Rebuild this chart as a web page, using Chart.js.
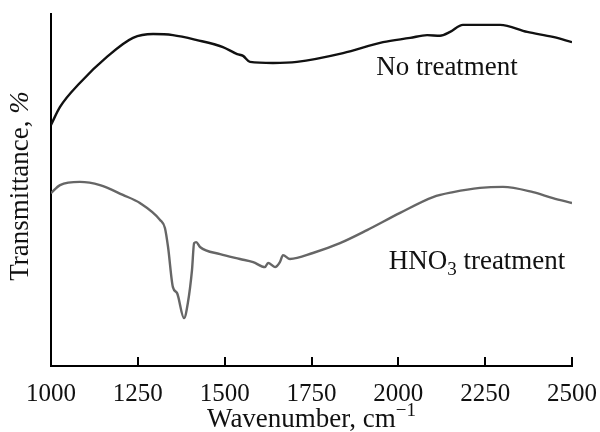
<!DOCTYPE html>
<html>
<head>
<meta charset="utf-8">
<script src="https://cdn.jsdelivr.net/npm/chart.js@4"></script>
<style>
  html, body { margin: 0; padding: 0; background: #fff; }
  #wrap { width: 600px; height: 432px; }
</style>
</head>
<body>
<div id="wrap"><canvas id="chart1"></canvas></div>
<script>
// wavenumber (cm-1) and transmittance (arbitrary %)
var noTreatX = [1000, 1026, 1083, 1161, 1236, 1294, 1351, 1420, 1495, 1536, 1553, 1573, 1639, 1708, 1841, 1956, 2034, 2083, 2120, 2149, 2186, 2293, 2371, 2445, 2500];
var noTreatY = [68.5, 73.6, 80.4, 87.8, 93.2, 94.3, 94.0, 92.6, 90.6, 88.6, 88.1, 86.4, 86.1, 86.4, 88.9, 92.0, 93.2, 94.0, 93.8, 94.9, 96.9, 96.9, 94.9, 93.5, 92.0];

var hno3X = [1000, 1026, 1083, 1141, 1207, 1256, 1314, 1328, 1337, 1351, 1363, 1383, 1394, 1406, 1412, 1418, 1429, 1487, 1544, 1582, 1616, 1625, 1645, 1659, 1668, 1688, 1754, 1832, 1910, 2005, 2100, 2158, 2235, 2301, 2388, 2445, 2500];
var hno3Y = [49.1, 51.4, 52.3, 51.4, 48.6, 46.3, 41.5, 39.2, 33.8, 22.4, 20.7, 13.6, 17.9, 27.3, 34.9, 35.2, 33.8, 31.8, 30.4, 29.5, 28.1, 29.3, 28.1, 29.5, 31.5, 30.4, 32.1, 34.9, 38.6, 43.5, 48.0, 49.4, 50.6, 50.9, 49.4, 47.7, 46.3];

var xTicks = [1000, 1250, 1500, 1750, 2000, 2250, 2500];

var serif = "'Liberation Serif', 'DejaVu Serif', serif";

function pts(xs, ys) {
  return xs.map(function(x, i) { return {x: x, y: ys[i]}; });
}

// draws pieces [text, fontSize, dy, italic] in a row centred on cx
function drawRow(ctx, parts, cx, cy) {
  var widths = parts.map(function(p) {
    ctx.font = (p[3] ? 'italic ' : '') + p[1] + 'px ' + serif;
    return ctx.measureText(p[0]).width;
  });
  var total = widths.reduce(function(a, b) { return a + b; }, 0);
  var x = cx - total / 2;
  ctx.textAlign = 'left';
  parts.forEach(function(p, i) {
    ctx.font = (p[3] ? 'italic ' : '') + p[1] + 'px ' + serif;
    ctx.fillText(p[0], x, cy + p[2]);
    x += widths[i];
  });
}

// inward tick marks, titles and curve labels
var extras = {
  id: 'extras',
  afterDraw: function(chart) {
    var ctx = chart.ctx;
    var xs = chart.scales.x;
    var area = chart.chartArea;
    ctx.save();
    ctx.strokeStyle = '#000';
    ctx.lineWidth = 2;
    xTicks.forEach(function(v) {
      var px = Math.round(xs.getPixelForValue(v));
      ctx.beginPath();
      ctx.moveTo(px, area.bottom);
      ctx.lineTo(px, area.bottom - 9);
      ctx.stroke();
    });

    ctx.fillStyle = '#111';
    ctx.textBaseline = 'middle';
    drawRow(ctx, [['No treatment', 27, 0]], 447, 68);
    drawRow(ctx, [['HNO', 27, 0], ['3', 19, 8], [' treatment', 27, 0]], 477, 262);

    // x title
    drawRow(ctx, [['Wavenumber, cm', 27, 0], ['\u22121', 19, -9]], (area.left + area.right) / 2, 420);

    // y title
    ctx.translate(21, 186);
    ctx.rotate(-Math.PI / 2);
    drawRow(ctx, [['Transmittance, ', 27, 0], ['%', 27, 0, true]], 0, 0);
    ctx.restore();
  }
};

var ctx = document.getElementById('chart1').getContext('2d');
var myChart = new Chart(ctx, {
  type: 'line',
  data: {
    datasets: [
      {
        label: 'No treatment',
        data: pts(noTreatX, noTreatY),
        borderColor: '#111',
        borderWidth: 2.4,
        pointRadius: 0,
        cubicInterpolationMode: 'monotone'
      },
      {
        label: 'HNO3 treatment',
        data: pts(hno3X, hno3Y),
        borderColor: '#666',
        borderWidth: 2.4,
        pointRadius: 0,
        cubicInterpolationMode: 'monotone'
      }
    ]
  },
  options: {
    responsive: true,
    maintainAspectRatio: false,
    animation: false,
    layout: { padding: { top: 14, right: 28, left: 0, bottom: 0 } },
    plugins: {
      legend: { display: false },
      tooltip: { enabled: false }
    },
    scales: {
      x: {
        type: 'linear',
        min: 1000,
        max: 2500,
        afterBuildTicks: function(axis) {
          axis.ticks = xTicks.map(function(v) { return {value: v}; });
        },
        afterFit: function(axis) {
          axis.height = 66;
          axis.paddingLeft = 0;
          axis.paddingRight = 0;
        },
        grid: { display: false },
        border: { display: true, color: '#000', width: 2 },
        ticks: {
          color: '#111',
          font: { family: serif, size: 25 },
          padding: 5,
          maxRotation: 0,
          autoSkip: false,
          callback: function(v) { return String(v); }
        },
        title: { display: false }
      },
      y: {
        min: 0,
        max: 100,
        afterFit: function(axis) { axis.width = 51; },
        grid: { display: false },
        border: { display: true, color: '#000', width: 2 },
        ticks: { display: false }
      }
    }
  },
  plugins: [extras]
});
</script>
</body>
</html>
